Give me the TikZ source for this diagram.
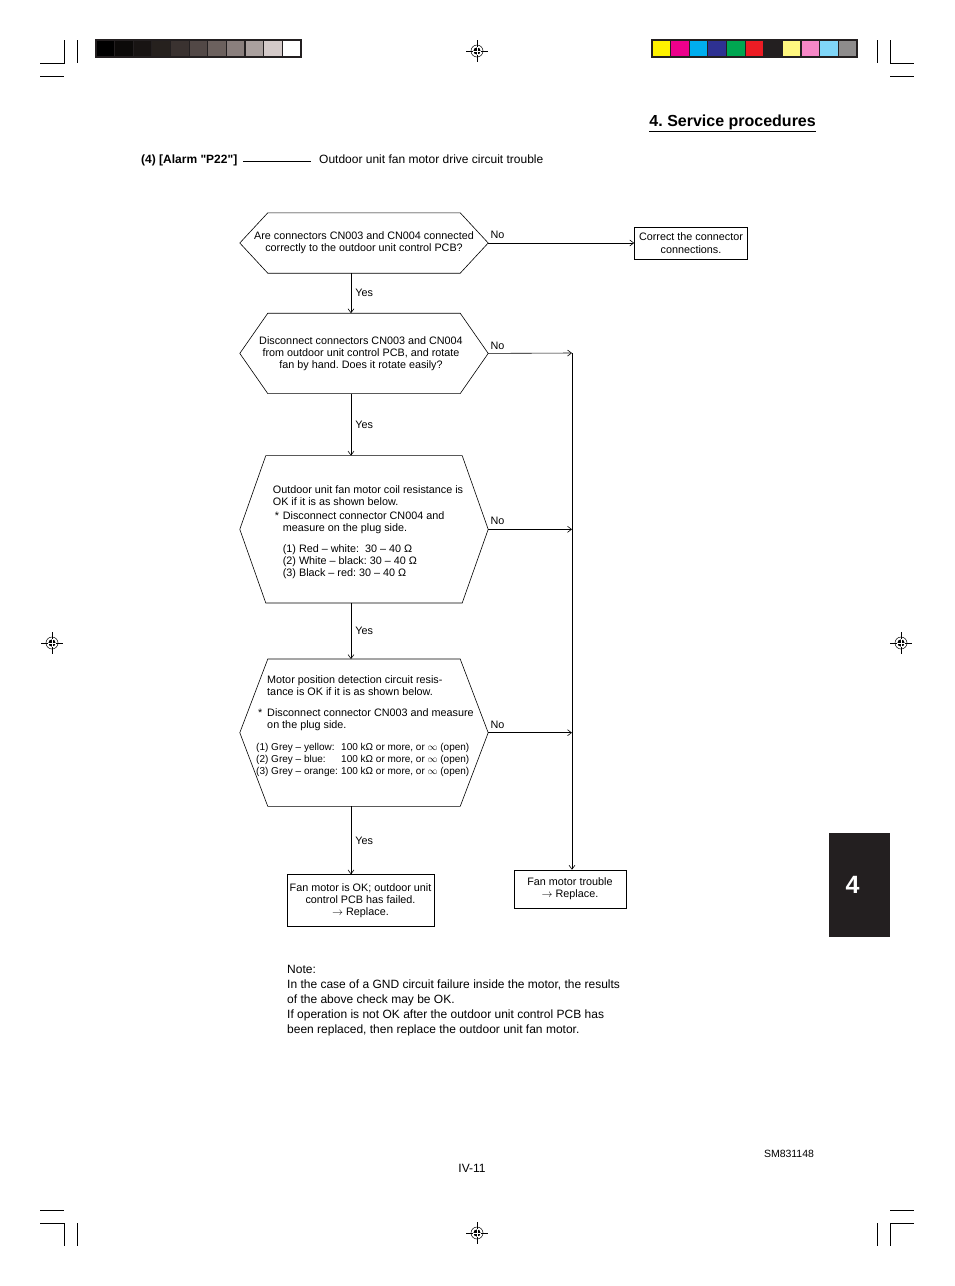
\documentclass[tikz,border=0pt]{standalone}
\usepackage{fontspec}
\setmainfont{Liberation Sans}[Ligatures=TeXOff]
\usetikzlibrary{arrows.meta, positioning}

\definecolor{regblack}{HTML}{231F20}
% grey scale strip
\definecolor{gs0}{HTML}{000000}
\definecolor{gs1}{HTML}{0C0A09}
\definecolor{gs2}{HTML}{181413}
\definecolor{gs3}{HTML}{26211E}
\definecolor{gs4}{HTML}{3A3230}
\definecolor{gs5}{HTML}{524846}
\definecolor{gs6}{HTML}{6C615E}
\definecolor{gs7}{HTML}{8A7F7D}
\definecolor{gs8}{HTML}{AAA09E}
\definecolor{gs9}{HTML}{D4CAC9}
\definecolor{gs10}{HTML}{FFFFFF}
% colour strip
\definecolor{cb0}{HTML}{FFF200}
\definecolor{cb1}{HTML}{EC008C}
\definecolor{cb2}{HTML}{00AEEF}
\definecolor{cb3}{HTML}{2E3192}
\definecolor{cb4}{HTML}{00A651}
\definecolor{cb5}{HTML}{ED1C24}
\definecolor{cb6}{HTML}{231F20}
\definecolor{cb7}{HTML}{FFF780}
\definecolor{cb8}{HTML}{F687C6}
\definecolor{cb9}{HTML}{80D6F8}
\definecolor{cb10}{HTML}{8E8C8C}

\newcommand\flowfont{\fontsize{10.8}{12}\selectfont}
\newcommand\tablefont{\fontsize{10}{12}\selectfont}

\begin{document}
\frenchspacing
\begin{tikzpicture}[
x=1pt, y=-1pt,
hexbox/.style={minimum width=248pt, inner sep=0pt},
hextext/.style={font=\flowfont, inner sep=0pt},
box/.style={draw, line width=0.6pt, align=center, inner sep=2pt, font=\flowfont},
arrow/.style={line width=0.6pt, -{Straight Barb[length=4pt, width=6pt]}},
frame/.style={line width=0.6pt},
lbl/.style={font=\flowfont, inner sep=2pt},
cropline/.style={line width=0.9pt}
]

\fill[white] (0,0) rectangle (954,1286);
\useasboundingbox (0,0) rectangle (954,1286);

% printer's marks
\draw[cropline] (64,40) -- (64,63) -- (40,63) (77,40) -- (77,63) (40,76) -- (64,76);
\draw[cropline] (877,40) -- (877,63) (890,40) -- (890,63) -- (914,63) (890,76) -- (914,76);
\draw[cropline] (40,1210) -- (64,1210) (40,1223) -- (64,1223) -- (64,1246) (77,1223) -- (77,1246);
\draw[cropline] (890,1210) -- (914,1210) (914,1223) -- (890,1223) -- (890,1246) (877,1223) -- (877,1246);

\fill[regblack] (95,39) rectangle (302,57.5);
\fill[regblack] (651,39) rectangle (858,57.5);
\foreach \i in {0,...,10} {
  \fill[gs\i] (96.5+\i*18.66,40.5) rectangle ++(17.36,15.5);
  \fill[cb\i] (652.5+\i*18.66,40.5) rectangle ++(17.36,15.5);
}

\foreach \x/\y in {477/51, 52/643, 901/643, 477/1233} {
  \draw[line width=0.5pt] (\x-11,\y) -- (\x+11,\y) (\x,\y-11) -- (\x,\y+11);
  \draw[line width=0.5pt] (\x,\y) circle (6);
  \fill (\x,\y) circle (3.6);
  \draw[white, line width=0.5pt] (\x-3.6,\y) -- (\x+3.6,\y) (\x,\y-3.6) -- (\x,\y+3.6);
}

% heading
\node (title) [font=\bfseries\fontsize{16}{19}\selectfont, anchor=base east, inner sep=0pt] at (816,126) {4. Service procedures};
\draw[line width=0.9pt] ([yshift=-5pt]title.base west) -- ([yshift=-5pt]title.base east);

\node (alarm) [font=\bfseries\fontsize{12}{14}\selectfont, anchor=base west, inner sep=0pt] at (141,163) {(4) [Alarm "P22"]};
\node (fault) [font=\fontsize{12}{14}\selectfont, anchor=base west, inner sep=0pt] at (319,163) {Outdoor unit fan motor drive circuit trouble};
\draw[line width=0.6pt] ([xshift=6pt, yshift=-1pt]alarm.east) -- ([xshift=-8pt, yshift=-1pt]alarm.east -| fault.west);

% checks
\node (q1) [hexbox, minimum height=60pt, at={(364,243)},
  label={[hextext, align=center]center:{Are connectors CN003 and CN004 connected\\correctly to the outdoor unit control PCB?}}] {};
\node (q2) [hexbox, minimum height=80pt, below=40pt of q1,
  label={[hextext, align=center, xshift=-3pt]center:{Disconnect connectors CN003 and CN004\\from outdoor unit control PCB, and rotate\\fan by hand. Does it rotate easily?}}] {};
\node (q3) [hexbox, minimum height=147pt, below=62pt of q2,
  label={[hextext, align=left, xshift=4pt, yshift=-3pt]center:{Outdoor unit fan motor coil resistance is\\
OK if it is as shown below.\\[2pt]
\makebox[10pt][l]{\hspace*{2pt}*}Disconnect connector CN004 and\\
\hspace*{10pt}measure on the plug side.\\[9pt]
\hspace*{10pt}(1) Red – white:\ \ 30 – 40 Ω\\
\hspace*{10pt}(2) White – black: 30 – 40 Ω\\
\hspace*{10pt}(3) Black – red: 30 – 40 Ω}}] {};
\node (q4) [hexbox, minimum height=147pt, below=56pt of q3,
  label={[hextext, align=left, xshift=1pt, yshift=7pt]center:{\hspace*{11pt}Motor position detection circuit resis-\\
\hspace*{11pt}tance is OK if it is as shown below.\\[9pt]
\makebox[11pt][l]{\hspace*{2pt}*}Disconnect connector CN003 and measure\\
\hspace*{11pt}on the plug side.\\[10pt]
{\tablefont\makebox[85pt][l]{(1) Grey – yellow:}100 kΩ or more, or $\infty$ (open)}\\
{\tablefont\makebox[85pt][l]{(2) Grey – blue:}100 kΩ or more, or $\infty$ (open)}\\
{\tablefont\makebox[85pt][l]{(3) Grey – orange:}100 kΩ or more, or $\infty$ (open)}}}] {};

\foreach \q/\c in {q1/28, q2/28, q3/26, q4/28}
  \draw[frame] (\q.west) -- ([xshift=\c]\q.north west) -- ([xshift=-\c]\q.north east) -- (\q.east)
    -- ([xshift=-\c]\q.south east) -- ([xshift=\c]\q.south west) -- cycle;

% results
\node (fix) [box, minimum width=113pt, minimum height=32pt, right=146pt of q1] {Correct the connector\\[1pt]connections.};
\node (okpcb) [box, minimum width=147pt, minimum height=52pt, below=68pt of q4, xshift=-3.5pt] {Fan motor is OK; outdoor unit\\control PCB has failed.\\$\rightarrow$ Replace.};
\node (motor) [box, minimum width=112pt, minimum height=38pt] at (570,889) {Fan motor trouble\\$\rightarrow$ Replace.};
\coordinate (rail) at (572,353);

\foreach \a/\b in {q1/q2, q2/q3, q3/q4}
  \draw[arrow] ([xshift=-13pt]\a.south) -- node[lbl, right=2pt] {Yes} ([xshift=-13pt]\b.north);
\draw[arrow] ([xshift=-13pt]q4.south) -- node[lbl, right=2pt] {Yes} ([xshift=-13pt]q4.south |- okpcb.north);

\draw[arrow] (q1.east) -- node[pos=0, lbl, anchor=south west, yshift=2pt] {No} (fix);
\draw[arrow] (q2.east) -- node[pos=0, lbl, anchor=south west, yshift=2pt] {No} (rail);
\draw[arrow] (q3.east) -- node[pos=0, lbl, anchor=south west, yshift=2pt] {No} (q3.east -| rail);
\draw[arrow] (q4.east) -- node[pos=0, lbl, anchor=south west, yshift=2pt] {No} (q4.east -| rail);
\draw[arrow] (rail) -- (rail |- motor.north);

% note
\node (note) [anchor=north west, inner sep=0pt, align=left, font=\fontsize{12}{14.8}\selectfont] at (287,965.5) {Note:\\
In the case of a GND circuit failure inside the motor, the results\\
of the above check may be OK.\\
If operation is not OK after the outdoor unit control PCB has\\
been replaced, then replace the outdoor unit fan motor.};

% side tab and footer
\fill[regblack] (828.5,833) rectangle (889.5,937);
\node (tab) [text=white, font=\bfseries\fontsize{25}{30}\selectfont] at (852.5,884.5) {4};
\node (pageno) [font=\fontsize{12}{14}\selectfont] at (472,1168) {IV-11};
\node (docno) [font=\fontsize{10.5}{12}\selectfont] at (789,1154) {SM831148};

\end{tikzpicture}
\end{document}
